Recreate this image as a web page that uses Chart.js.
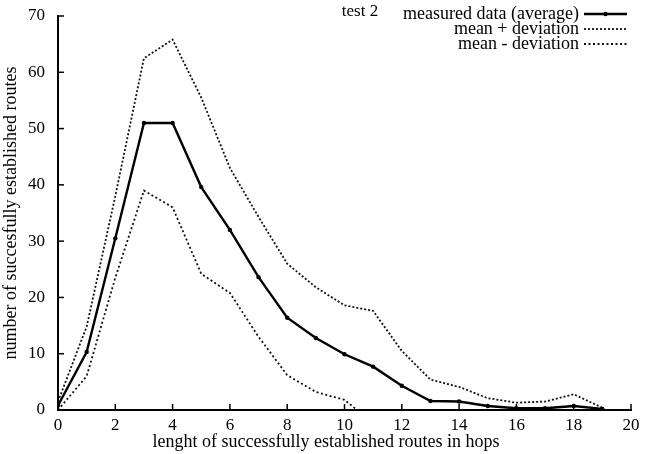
<!DOCTYPE html>
<html>
<head>
<meta charset="utf-8">
<script src="https://cdn.jsdelivr.net/npm/chart.js@4.4.1/dist/chart.umd.min.js"></script>
<style>
  html, body { margin: 0; padding: 0; background: #fff; }
  #wrap { width: 658px; height: 454px; position: relative; }
</style>
</head>
<body>
<div id="wrap"><canvas id="c" width="658" height="454"></canvas></div>
<script>
// ---- data ----
const hops = [0, 1, 2, 3, 4, 5, 6, 7, 8, 9, 10, 11, 12, 13, 14, 15, 16, 17, 18, 19];
const meanRoutes = [0.8, 10.3, 30.5, 51, 51, 39.6, 32, 23.6, 16.4, 12.8, 9.9, 7.7, 4.3, 1.6, 1.5, 0.7, 0.3, 0.3, 0.7, 0.2];
const meanPlusDev = [1.5, 14.8, 38, 62.5, 65.8, 55.5, 43, 34.3, 26, 21.8, 18.6, 17.6, 10.5, 5.4, 4.1, 2.1, 1.3, 1.5, 2.8, 0.4];
const meanMinusDev = [0, 6, 23.5, 39, 36, 24.2, 20.8, 13, 6.2, 3.2, 1.8, -2.3, -1.9, -2.2, -1.1, -0.7, -0.7, -0.9, -1.3, 0];
const seriesNames = ["measured data (average)", "mean + deviation", "mean - deviation"];
const xTicks = [0, 2, 4, 6, 8, 10, 12, 14, 16, 18, 20];
const yTicks = [0, 10, 20, 30, 40, 50, 60, 70];
const chartTitle = "test 2";
const xTitle = "lenght of successfully established routes in hops";
const yTitle = "number of succesfully established routes";

const FONT = "'Liberation Serif', 'DejaVu Serif', serif";
const toPts = arr => hops.map((h, i) => ({ x: h, y: arr[i] }));

const inwardTicks = {
  id: 'inwardTicks',
  afterDatasetsDraw(chart) {
    const { ctx, chartArea, scales } = chart;
    ctx.save();
    ctx.strokeStyle = '#000';
    ctx.lineWidth = 1.5;
    xTicks.forEach(v => {
      const px = scales.x.getPixelForValue(v);
      ctx.beginPath();
      ctx.moveTo(px, chartArea.bottom);
      ctx.lineTo(px, chartArea.bottom - 6);
      ctx.stroke();
    });
    yTicks.forEach(v => {
      const py = scales.y.getPixelForValue(v);
      ctx.beginPath();
      ctx.moveTo(chartArea.left, py);
      ctx.lineTo(chartArea.left + 6, py);
      ctx.stroke();
    });
    ctx.restore();
  }
};

const legendAndTitle = {
  id: 'legendAndTitle',
  afterDraw(chart) {
    const { ctx } = chart;
    ctx.save();
    ctx.fillStyle = '#000';
    ctx.font = "17px " + FONT;
    ctx.textBaseline = 'middle';
    ctx.textAlign = 'center';
    ctx.fillText(chartTitle, 360, 12);
    ctx.font = "18px " + FONT;
    ctx.fillText(xTitle, 326, 442);
    const textRight = 579, lx0 = 584, lx1 = 627;
    const rowsY = [14, 29, 44];
    chart.data.datasets.forEach((ds, i) => {
      const y = rowsY[i];
      ctx.textAlign = 'right';
      ctx.fillStyle = '#000';
      ctx.fillText(seriesNames[i], textRight, y);
      ctx.strokeStyle = ds.borderColor;
      ctx.lineWidth = ds.borderWidth;
      ctx.setLineDash(ds.borderDash || []);
      ctx.beginPath();
      ctx.moveTo(lx0, y);
      ctx.lineTo(lx1, y);
      ctx.stroke();
      ctx.setLineDash([]);
      if (ds.pointRadius) {
        ctx.beginPath();
        ctx.arc((lx0 + lx1) / 2, y, ds.pointRadius, 0, Math.PI * 2);
        ctx.fillStyle = ds.pointBackgroundColor;
        ctx.fill();
      }
    });
    ctx.restore();
  }
};

new Chart(document.getElementById('c'), {
  type: 'line',
  data: {
    datasets: [
      {
        label: seriesNames[0],
        data: toPts(meanRoutes),
        borderColor: '#000',
        borderWidth: 2.4,
        pointRadius: 2.2,
        pointBackgroundColor: '#000',
        pointBorderWidth: 0,
        tension: 0
      },
      {
        label: seriesNames[1],
        data: toPts(meanPlusDev),
        borderColor: '#111',
        borderWidth: 1.8,
        borderDash: [2, 2],
        pointRadius: 0,
        tension: 0
      },
      {
        label: seriesNames[2],
        data: toPts(meanMinusDev),
        borderColor: '#111',
        borderWidth: 1.8,
        borderDash: [2, 2.5],
        pointRadius: 0,
        tension: 0
      }
    ]
  },
  options: {
    responsive: false,
    animation: false,
    devicePixelRatio: 1,
    layout: { padding: { top: 16, right: 27, left: 0, bottom: 0 } },
    plugins: { legend: { display: false }, tooltip: { enabled: false }, title: { display: false } },
    scales: {
      x: {
        type: 'linear',
        min: 0, max: 20,
        afterBuildTicks: s => { s.ticks = xTicks.map(v => ({ value: v })); },
        afterFit: s => { s.height = 44; },
        grid: { display: false },
        border: { display: true, color: '#000', width: 2 },
        ticks: { color: '#000', font: { family: FONT, size: 17 }, padding: -3, maxRotation: 0 },
        title: { display: false }
      },
      y: {
        type: 'linear',
        min: 0, max: 70,
        afterBuildTicks: s => { s.ticks = yTicks.map(v => ({ value: v })); },
        afterFit: s => { s.width = 58; },
        grid: { display: false },
        border: { display: true, color: '#000', width: 2 },
        ticks: { color: '#000', font: { family: FONT, size: 17 }, padding: 5 },
        title: { display: true, text: yTitle, color: '#000', font: { family: FONT, size: 18 }, padding: { top: 0, bottom: 0 } }
      }
    }
  },
  plugins: [inwardTicks, legendAndTitle]
});
</script>
</body>
</html>
